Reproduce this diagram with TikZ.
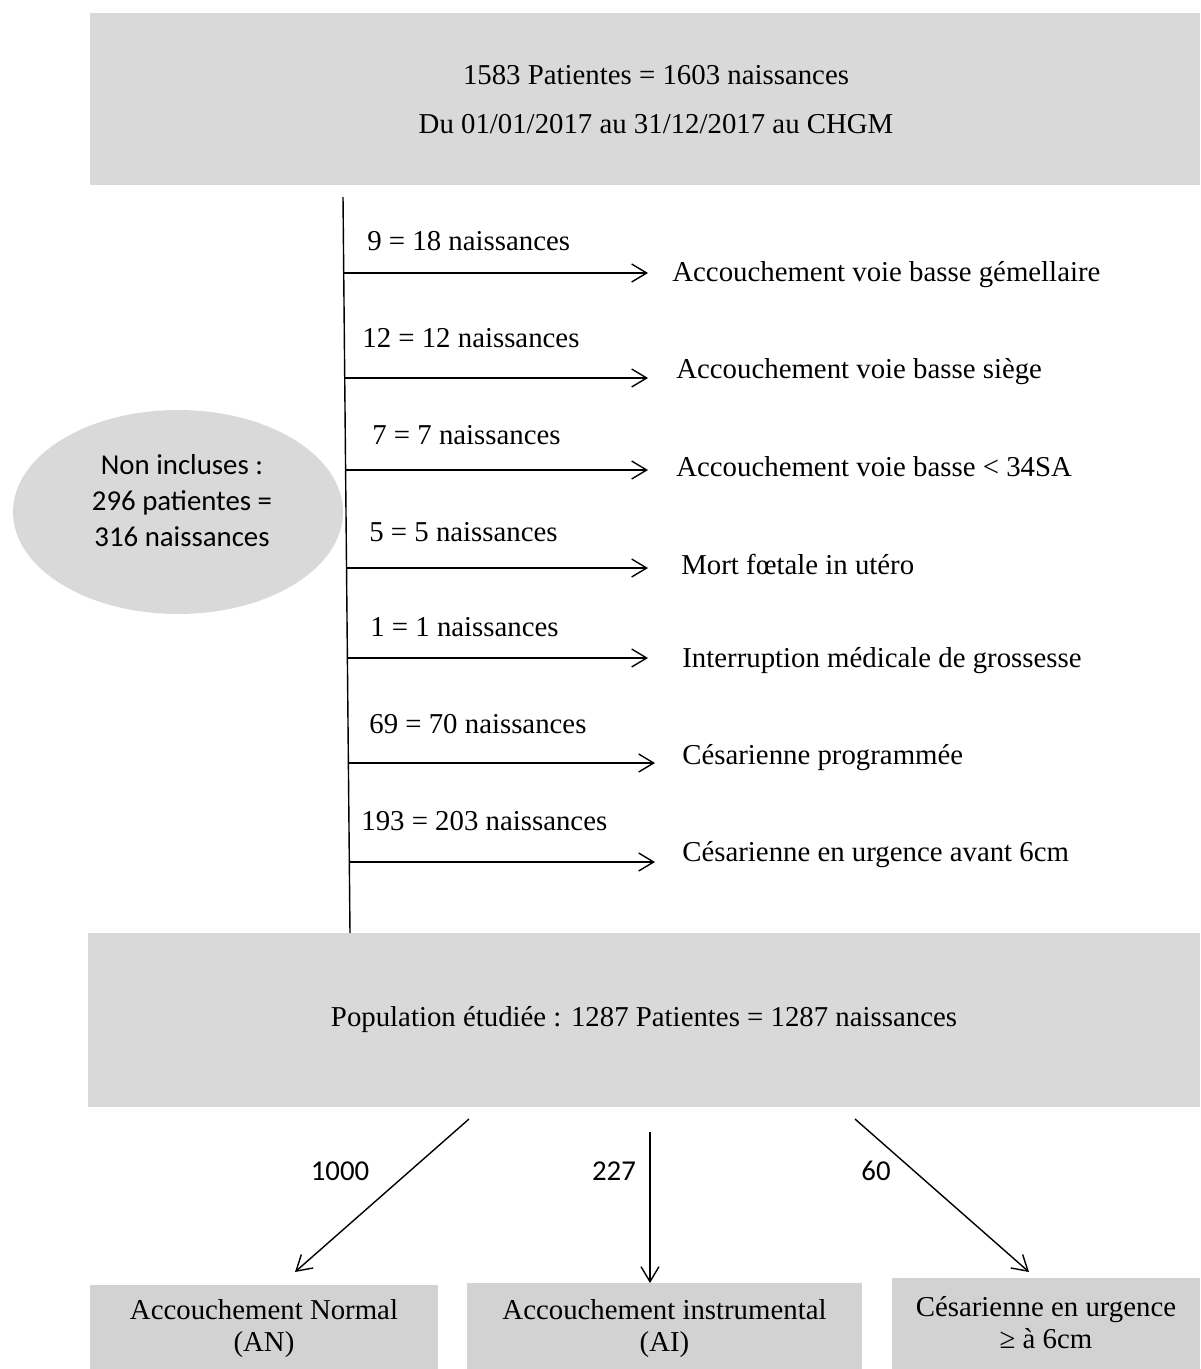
\documentclass[tikz,border=0pt]{standalone}
\usepackage{fontspec}
\setmainfont{Liberation Serif}
\newfontfamily\calib{Carlito}
\usetikzlibrary{arrows.meta,shapes.geometric}
\definecolor{boxgray}{RGB}{217,217,217}
\definecolor{boxgrayb}{RGB}{210,210,210}
\tikzset{
  fnt/.style={font=\fontsize{16.4}{18}\selectfont},
  graybox/.style={fill=boxgray, draw=none, inner sep=0pt},
  lbl/.style={fnt, anchor=west, inner sep=0pt},
  tgt/.style={fnt, anchor=west, inner sep=0pt},
  sanslbl/.style={font=\calib\fontsize{16.4}{18}\selectfont, inner sep=0pt},
  arr/.style={line width=0.8pt, -{Straight Barb[length=0.3cm, width=0.36cm, line width=0.8pt]}},
  ln/.style={line width=0.8pt}
}
\begin{document}
\begin{tikzpicture}[x=0.02cm, y=-0.02cm]
\useasboundingbox (0,0) rectangle (1200,1369);
\fill[white] (0,0) rectangle (1200,1369);

% top box
\node[graybox, minimum width=22.2cm, minimum height=3.44cm] (topbox) at (645,99) {};
\node[fnt, align=center, font=\fontsize{16.4}{27.9}\selectfont] (toptxt) at (656,100)
  {1583 Patientes = 1603 naissances\\Du 01/01/2017 au 31/12/2017 au CHGM};

% ellipse
\node[ellipse, fill=boxgray, minimum width=6.6cm, minimum height=4.08cm, inner sep=0pt] (ell) at (178,512) {};
\node[align=center, font=\calib\fontsize{16.4}{20.5}\selectfont] (elltxt) at (182,501)
  {Non incluses :\\296 patientes =\\316 naissances};

% population box
\node[graybox, minimum width=22.24cm, minimum height=3.48cm, fnt] (pop) at (644,1020)
  {Population étudiée : 1287 Patientes = 1287 naissances};

% vertical line
\coordinate (vtop) at (343,197);
\coordinate (vbot) at (350,933);
\draw[ln] (vtop) -- (vbot);

% horizontal branches
\coordinate (s1) at (343.5,273); \coordinate (e1) at (648,273);
\coordinate (s2) at (344.5,378); \coordinate (e2) at (648,378);
\coordinate (s3) at (345,470);   \coordinate (e3) at (648,470);
\coordinate (s4) at (346,568);   \coordinate (e4) at (648,568);
\coordinate (s5) at (346.5,658); \coordinate (e5) at (648,658);
\coordinate (s6) at (347.5,763); \coordinate (e6) at (655,763);
\coordinate (s7) at (348.5,862); \coordinate (e7) at (655,862);

\node[lbl] (l1) at (367,241) {9 = 18 naissances};
\node[lbl] (l2) at (362,338) {12 = 12 naissances};
\node[lbl] (l3) at (372,435) {7 = 7 naissances};
\node[lbl] (l4) at (369,532) {5 = 5 naissances};
\node[lbl] (l5) at (370,627) {1 = 1 naissances};
\node[lbl] (l6) at (369,724) {69 = 70 naissances};
\node[lbl] (l7) at (361,821) {193 = 203 naissances};

\node[tgt] (t1) at (672,275) {Accouchement voie basse gémellaire};
\node[tgt] (t2) at (676,372) {Accouchement voie basse siège};
\node[tgt] (t3) at (676,467) {Accouchement voie basse < 34SA};
\node[tgt] (t4) at (681,564) {Mort fœtale in utéro};
\node[tgt] (t5) at (682,661) {Interruption médicale de grossesse};
\node[tgt] (t6) at (682,758) {Césarienne programmée};
\node[tgt] (t7) at (682,855) {Césarienne en urgence avant 6cm};

\foreach \i in {1,...,7}{\draw[arr] (s\i) -- (e\i);}

% bottom boxes
\node[graybox, fill=boxgrayb, minimum width=6.96cm, minimum height=1.7cm] (an) at (264,1327) {};
\node[fnt, align=center, font=\fontsize{16.4}{18.2}\selectfont] (antxt) at (264,1329)
  {Accouchement Normal\\(AN)};
\node[graybox, fill=boxgrayb, minimum width=7.9cm, minimum height=1.8cm] (ai) at (664.5,1328) {};
\node[fnt, align=center, font=\fontsize{16.4}{18.2}\selectfont] (aitxt) at (664.5,1329)
  {Accouchement instrumental\\(AI)};
\node[graybox, fill=boxgrayb, minimum width=6.16cm, minimum height=1.9cm] (ces) at (1046,1325) {};
\node[fnt, align=center, font=\fontsize{16.4}{18.2}\selectfont] (cestxt) at (1046,1323)
  {Césarienne en urgence\\≥ à 6cm};

% bottom arrows
\coordinate (b1s) at (469,1119); \coordinate (b1e) at (295,1272);
\coordinate (b2s) at (650,1132); \coordinate (b2e) at (650,1283);
\coordinate (b3s) at (855,1119); \coordinate (b3e) at (1029,1272);
\draw[arr] (b1s) -- (b1e);
\draw[arr] (b2s) -- (b2e);
\draw[arr] (b3s) -- (b3e);

\node[sanslbl] (n1) at (340,1171) {1000};
\node[sanslbl] (n2) at (614,1171) {227};
\node[sanslbl] (n3) at (876,1171) {60};
\end{tikzpicture}
\end{document}
